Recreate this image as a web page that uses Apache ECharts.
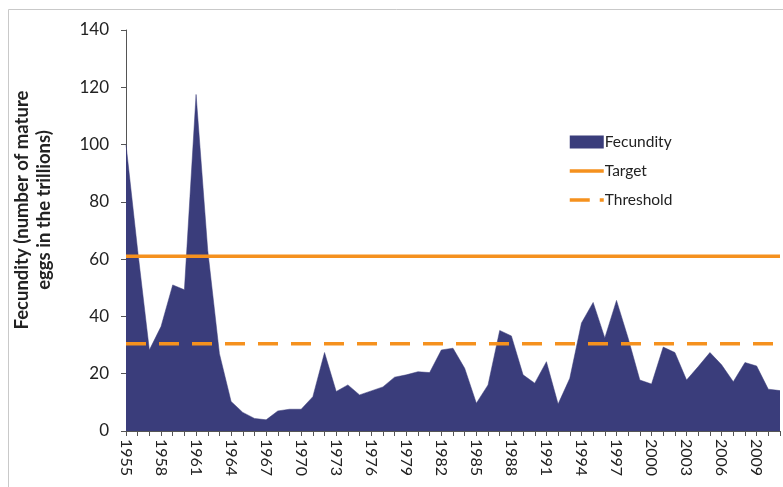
<!DOCTYPE html>
<html>
<head>
<meta charset="utf-8">
<script src="https://cdn.jsdelivr.net/npm/echarts@6/dist/echarts.min.js"></script>
<style>
html,body{margin:0;padding:0;background:#fff;}
#c{width:783px;height:487px;}
</style>
</head>
<body>
<div id="c"></div>
<script>
const years = ['1955','1956','1957','1958','1959','1960','1961','1962','1963','1964','1965','1966','1967','1968','1969','1970','1971','1972','1973','1974','1975','1976','1977','1978','1979','1980','1981','1982','1983','1984','1985','1986','1987','1988','1989','1990','1991','1992','1993','1994','1995','1996','1997','1998','1999','2000','2001','2002','2003','2004','2005','2006','2007','2008','2009','2010','2011'];
const fecundity = [100,63,28.3,36.5,51,49.3,117.5,63,27,10.3,6.5,4.4,3.9,7,7.6,7.6,12,27.4,13.8,16.1,12.6,14,15.4,18.8,19.6,20.7,20.4,28.3,28.9,21.9,9.7,16.1,35.1,33.2,19.6,16.7,24.2,9.4,18.4,37.7,44.9,32.5,45.6,32.4,17.8,16.4,29.3,27.4,17.8,22.5,27.4,23.1,17.2,23.9,22.7,14.6,14.1];
const targetLevel = 61;
const thresholdLevel = 30.5;
const yTicks = [0,20,40,60,80,100,120,140];

const navy = '#3a3d7b';
const orange = '#f5911e';
const font = 'Lato, "Open Sans", sans-serif';

const chart = echarts.init(document.getElementById('c'));
chart.setOption({
  animation: false,
  backgroundColor: '#fff',
  grid: {left: 126, right: 3, top: 30, bottom: 56},
  graphic: [
    {type: 'rect', shape: {x: 8.5, y: 9.5, width: 800, height: 500}, style: {fill: 'none', stroke: '#c9c9c9', lineWidth: 1}, z: -1},
    {type: 'text', x: 33, y: 210, rotation: Math.PI / 2,
     style: {text: 'Fecundity (number of mature\neggs in the trillions)', font: 'bold 18.5px ' + font, fill: '#222', align: 'center', verticalAlign: 'middle', lineHeight: 22}}
  ],
  legend: {
    orient: 'vertical', left: 563, top: 129, itemWidth: 34, itemHeight: 13, itemGap: 13,
    textStyle: {fontFamily: font, fontSize: 15.5, color: '#222', padding: [0, 0, 0, -4]},
    data: [
      {name: 'Fecundity', icon: 'rect'},
      {name: 'Target', itemStyle: {opacity: 0}, lineStyle: {width: 3.5, color: orange}},
      {name: 'Threshold', itemStyle: {opacity: 0}, lineStyle: {width: 3.5, color: orange, type: [20, 10]}}
    ]
  },
  xAxis: {
    type: 'category', data: years, boundaryGap: false,
    axisLine: {lineStyle: {color: '#555', width: 1}},
    axisTick: {interval: 0, length: 5, lineStyle: {color: '#555'}},
    axisLabel: {interval: 2, rotate: -90, fontFamily: font, fontSize: 16, color: '#222', margin: 8},
    splitLine: {show: false}
  },
  yAxis: {
    type: 'value', min: 0, max: 140, interval: 20,
    axisLine: {show: true, lineStyle: {color: '#555', width: 1}},
    axisTick: {show: true, length: 5, lineStyle: {color: '#555'}},
    axisLabel: {fontFamily: font, fontSize: 17, color: '#222', margin: 17,
      formatter: v => yTicks.includes(v) ? String(v) : ''},
    splitLine: {show: false}
  },
  series: [
    {name: 'Fecundity', type: 'line', data: fecundity, symbol: 'none', smooth: false,
     lineStyle: {width: 0.5, color: navy}, itemStyle: {color: navy},
     areaStyle: {color: navy, opacity: 1}, z: 1},
    {name: 'Target', type: 'line', data: years.map(() => targetLevel), symbol: 'none',
     lineStyle: {width: 3.5, color: orange}, itemStyle: {color: orange}, z: 3},
    {name: 'Threshold', type: 'line', data: years.map(() => thresholdLevel), symbol: 'none',
     lineStyle: {width: 3.5, color: orange, type: [20, 13]}, itemStyle: {color: orange}, z: 3}
  ]
});
</script>
</body>
</html>
